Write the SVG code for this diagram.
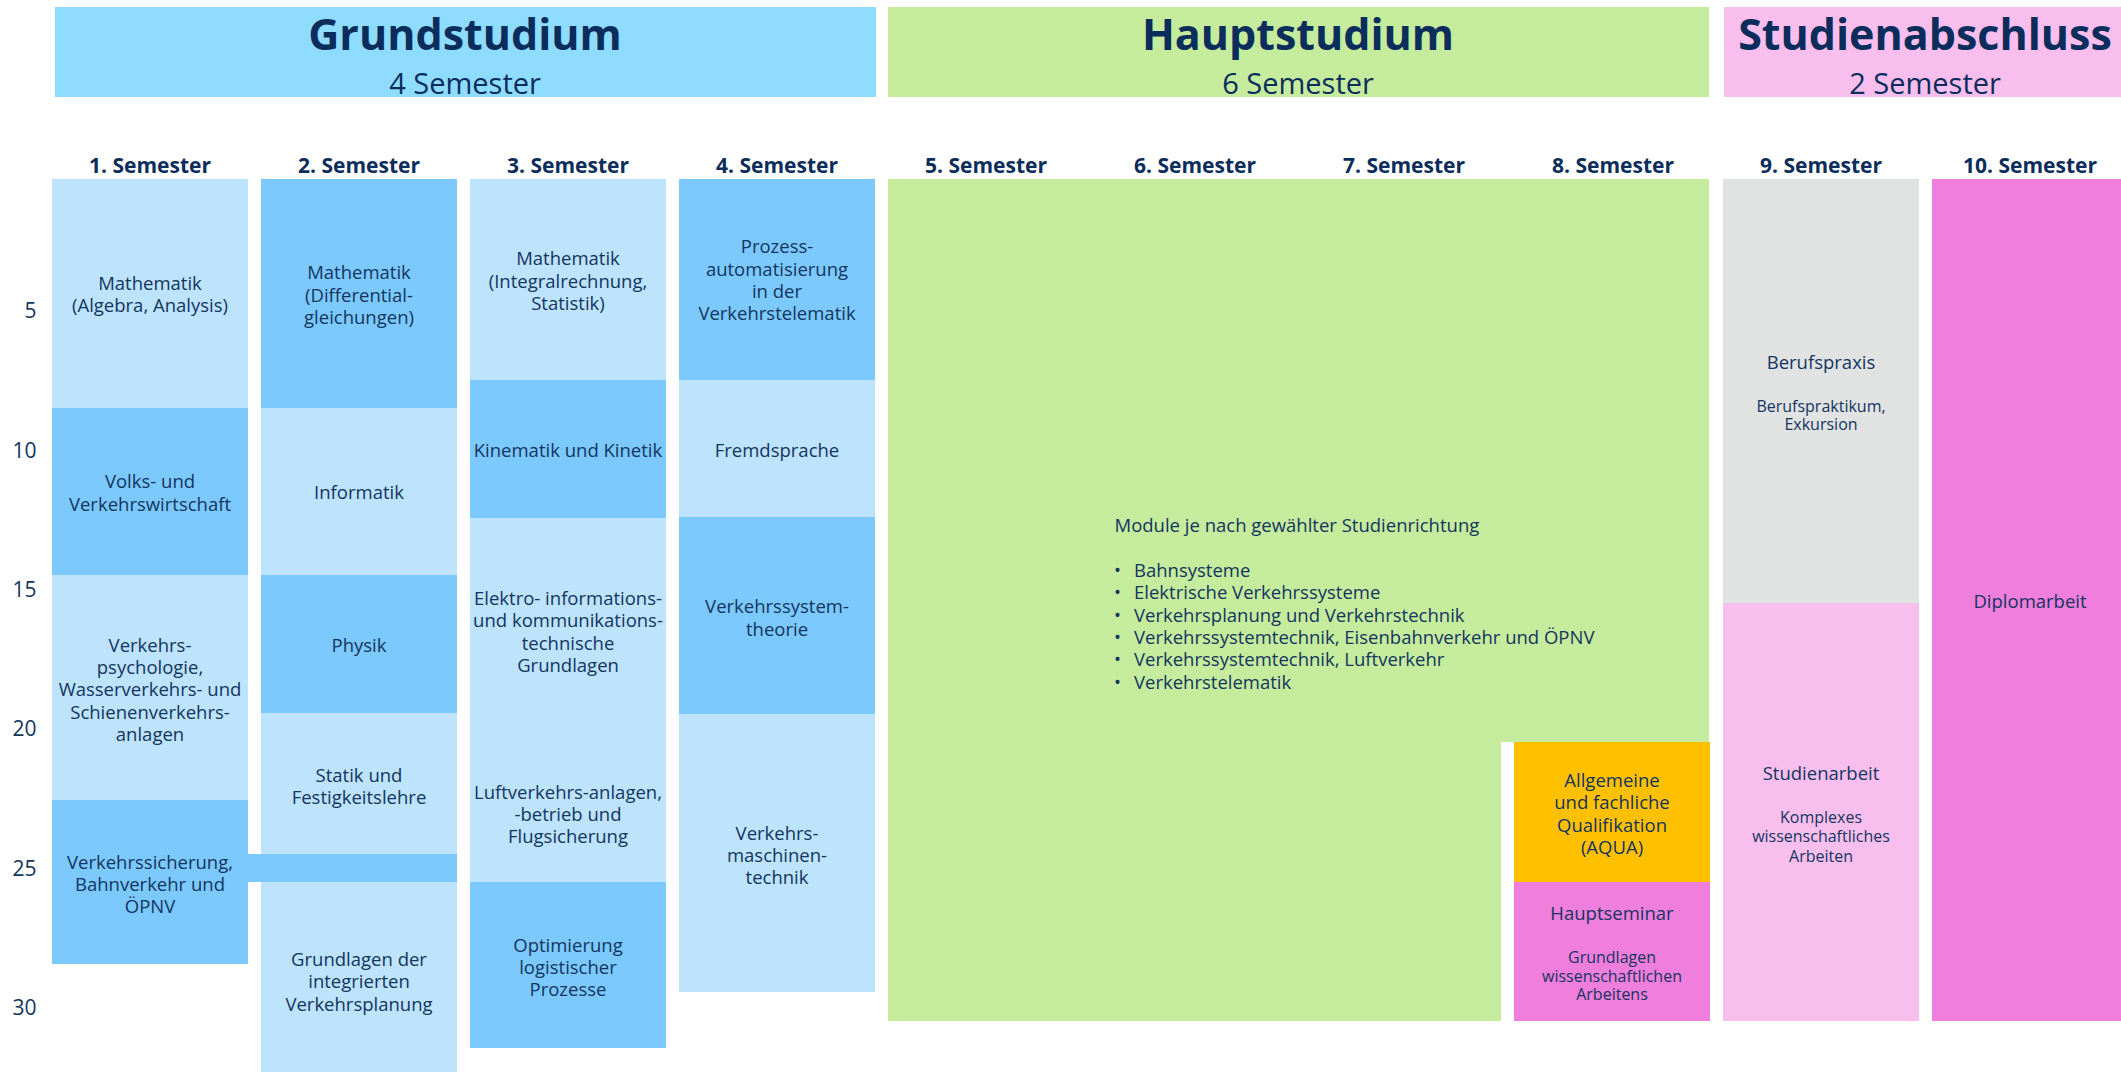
<svg xmlns="http://www.w3.org/2000/svg" width="2121" height="1073" viewBox="0 0 2121 1073">
<style>
text{font-family:"Open Sans","Noto Sans","Liberation Sans",sans-serif;fill:#13355F}
.t{font-size:18.5px;text-anchor:middle}
.s{font-size:16px;text-anchor:middle}
.h{font-size:43px;font-weight:700;text-anchor:middle;fill:#0B2D5B}
.sub{font-size:29px;text-anchor:middle;fill:#0B2D5B}
.sem{font-size:21px;font-weight:700;text-anchor:middle;fill:#0B2D5B}
.num{font-size:21px;text-anchor:end}
.lb{fill:#BDE3FD}.db{fill:#7BC9FD}.gr{fill:#C5EB9C}.pk{fill:#F8BEEE}.or{fill:#F07EDD}.gy{fill:#E1E2E2}.aq{fill:#FFC000}
</style>
<rect width="2121" height="1073" fill="#FFFFFF"/>
<g id="header-grundstudium">
<rect x="55" y="7" width="821" height="90" fill="#8EDCFF"/>
<text class="h" x="465" y="50">Grundstudium</text>
<text class="sub" x="465" y="94">4 Semester</text>
</g>
<g id="header-hauptstudium">
<rect x="888" y="7" width="821" height="90" class="gr"/>
<text class="h" x="1298" y="50">Hauptstudium</text>
<text class="sub" x="1298" y="94">6 Semester</text>
</g>
<g id="header-studienabschluss">
<rect x="1724" y="7" width="397" height="90" class="pk"/>
<text class="h" x="1925" y="50">Studienabschluss</text>
<text class="sub" x="1925" y="94">2 Semester</text>
</g>
<g id="semester-labels">
<text class="sem" x="150" y="173">1. Semester</text>
<text class="sem" x="359" y="173">2. Semester</text>
<text class="sem" x="568" y="173">3. Semester</text>
<text class="sem" x="777" y="173">4. Semester</text>
<text class="sem" x="986" y="173">5. Semester</text>
<text class="sem" x="1195" y="173">6. Semester</text>
<text class="sem" x="1404" y="173">7. Semester</text>
<text class="sem" x="1613" y="173">8. Semester</text>
<text class="sem" x="1821" y="173">9. Semester</text>
<text class="sem" x="2030" y="173">10. Semester</text>
</g>
<g id="row-numbers">
<text class="num" x="36.5" y="317.5">5</text>
<text class="num" x="36.5" y="457.5">10</text>
<text class="num" x="36.5" y="596.5">15</text>
<text class="num" x="36.5" y="736">20</text>
<text class="num" x="36.5" y="875.5">25</text>
<text class="num" x="36.5" y="1014.5">30</text>
</g>
<g id="s1-mathematik">
<rect x="52" y="179" width="196" height="229" class="lb"/>
<text class="t" x="150" y="289.5">Mathematik<tspan x="150" y="312">(Algebra, Analysis)</tspan></text>
</g>
<g id="s1-volkswirtschaft">
<rect x="52" y="408" width="196" height="167" class="db"/>
<text class="t" x="150" y="488">Volks- und<tspan x="150" y="510.5">Verkehrswirtschaft</tspan></text>
</g>
<g id="s1-verkehrspsychologie">
<rect x="52" y="575" width="196" height="225" class="lb"/>
<text class="t" x="150" y="651.5">Verkehrs-<tspan x="150" y="674">psychologie,</tspan><tspan x="150" y="696">Wasserverkehrs- und</tspan><tspan x="150" y="718.5">Schienenverkehrs-</tspan><tspan x="150" y="741">anlagen</tspan></text>
</g>
<g id="s1-verkehrssicherung">
<path d="M52 800H248V854H457V882H248V964H52Z" class="db"/>
<text class="t" x="150" y="869">Verkehrssicherung,<tspan x="150" y="891">Bahnverkehr und</tspan><tspan x="150" y="913">ÖPNV</tspan></text>
</g>
<g id="s2-mathematik">
<rect x="261" y="179" width="196" height="229" class="db"/>
<text class="t" x="359" y="279">Mathematik<tspan x="359" y="301.5">(Differential-</tspan><tspan x="359" y="324">gleichungen)</tspan></text>
</g>
<g id="s2-informatik">
<rect x="261" y="408" width="196" height="167" class="lb"/>
<text class="t" x="359" y="499">Informatik</text>
</g>
<g id="s2-physik">
<rect x="261" y="575" width="196" height="138" class="db"/>
<text class="t" x="359" y="652">Physik</text>
</g>
<g id="s2-statik">
<rect x="261" y="713" width="196" height="141" class="lb"/>
<text class="t" x="359" y="781.5">Statik und<tspan x="359" y="804">Festigkeitslehre</tspan></text>
</g>
<g id="s2-grundlagen-verkehrsplanung">
<rect x="261" y="882" width="196" height="190" class="lb"/>
<text class="t" x="359" y="966">Grundlagen der<tspan x="359" y="988">integrierten</tspan><tspan x="359" y="1010.5">Verkehrsplanung</tspan></text>
</g>
<g id="s3-mathematik">
<rect x="470" y="179" width="196" height="201" class="lb"/>
<text class="t" x="568" y="265">Mathematik<tspan x="568" y="287.5">(Integralrechnung,</tspan><tspan x="568" y="310">Statistik)</tspan></text>
</g>
<g id="s3-kinematik">
<rect x="470" y="380" width="196" height="138" class="db"/>
<text class="t" x="568" y="456.5">Kinematik und Kinetik</text>
</g>
<g id="s3-elektro">
<rect x="470" y="518" width="196" height="196" class="lb"/>
<text class="t" x="568" y="605">Elektro- informations-<tspan x="568" y="627">und kommunikations-</tspan><tspan x="568" y="649.5">technische</tspan><tspan x="568" y="672">Grundlagen</tspan></text>
</g>
<g id="s3-luftverkehr">
<rect x="470" y="713" width="196" height="169" class="lb"/>
<text class="t" x="568" y="799">Luftverkehrs-anlagen,<tspan x="568" y="821">-betrieb und</tspan><tspan x="568" y="843">Flugsicherung</tspan></text>
</g>
<g id="s3-optimierung">
<rect x="470" y="882" width="196" height="166" class="db"/>
<text class="t" x="568" y="952">Optimierung<tspan x="568" y="974">logistischer</tspan><tspan x="568" y="996">Prozesse</tspan></text>
</g>
<g id="s4-prozessautomatisierung">
<rect x="679" y="179" width="196" height="201" class="db"/>
<text class="t" x="777" y="253">Prozess-<tspan x="777" y="275.5">automatisierung</tspan><tspan x="777" y="298">in der</tspan><tspan x="777" y="320">Verkehrstelematik</tspan></text>
</g>
<g id="s4-fremdsprache">
<rect x="679" y="380" width="196" height="137" class="lb"/>
<text class="t" x="777" y="456.5">Fremdsprache</text>
</g>
<g id="s4-verkehrssystemtheorie">
<rect x="679" y="517" width="196" height="197" class="db"/>
<text class="t" x="777" y="613">Verkehrssystem-<tspan x="777" y="635.5">theorie</tspan></text>
</g>
<g id="s4-verkehrsmaschinentechnik">
<rect x="679" y="714" width="196" height="278" class="lb"/>
<text class="t" x="777" y="839.5">Verkehrs-<tspan x="777" y="861.5">maschinen-</tspan><tspan x="777" y="884">technik</tspan></text>
</g>
<g id="hauptstudium-module">
<path d="M888 179H1709V742H1501V1021H888Z" class="gr"/>
<text class="t" style="text-anchor:start" x="1114.5" y="532">Module je nach gewählter Studienrichtung</text>
<g class="t">
<text class="t" x="1117.5" y="576.5">•</text><text class="t" style="text-anchor:start" x="1134" y="576.5">Bahnsysteme</text>
<text class="t" x="1117.5" y="599">•</text><text class="t" style="text-anchor:start" x="1134" y="599">Elektrische Verkehrssysteme</text>
<text class="t" x="1117.5" y="621.5">•</text><text class="t" style="text-anchor:start" x="1134" y="621.5">Verkehrsplanung und Verkehrstechnik</text>
<text class="t" x="1117.5" y="644">•</text><text class="t" style="text-anchor:start" x="1134" y="644">Verkehrssystemtechnik, Eisenbahnverkehr und ÖPNV</text>
<text class="t" x="1117.5" y="666">•</text><text class="t" style="text-anchor:start" x="1134" y="666">Verkehrssystemtechnik, Luftverkehr</text>
<text class="t" x="1117.5" y="688.5">•</text><text class="t" style="text-anchor:start" x="1134" y="688.5">Verkehrstelematik</text>
</g>
</g>
<g id="aqua">
<rect x="1514" y="742" width="196" height="140" class="aq"/>
<text class="t" x="1612" y="786.5">Allgemeine<tspan x="1612" y="809">und fachliche</tspan><tspan x="1612" y="831.5">Qualifikation</tspan><tspan x="1612" y="854">(AQUA)</tspan></text>
</g>
<g id="hauptseminar">
<rect x="1514" y="882" width="196" height="139" class="or"/>
<text class="t" x="1612" y="920">Hauptseminar</text>
<text class="s" x="1612" y="962.5">Grundlagen<tspan x="1612" y="981.5">wissenschaftlichen</tspan><tspan x="1612" y="1000">Arbeitens</tspan></text>
</g>
<g id="berufspraxis">
<rect x="1723" y="179" width="196" height="424" class="gy"/>
<text class="t" x="1821" y="368.5">Berufspraxis</text>
<text class="s" x="1821" y="411.5">Berufspraktikum,<tspan x="1821" y="430">Exkursion</tspan></text>
</g>
<g id="studienarbeit">
<rect x="1723" y="603" width="196" height="418" class="pk"/>
<text class="t" x="1821" y="780">Studienarbeit</text>
<text class="s" x="1821" y="822.5">Komplexes<tspan x="1821" y="842">wissenschaftliches</tspan><tspan x="1821" y="861.5">Arbeiten</tspan></text>
</g>
<g id="diplomarbeit">
<rect x="1932" y="179" width="196" height="842" class="or"/>
<text class="t" x="2030" y="608">Diplomarbeit</text>
</g>
<g id="connectors"/>
</svg>
